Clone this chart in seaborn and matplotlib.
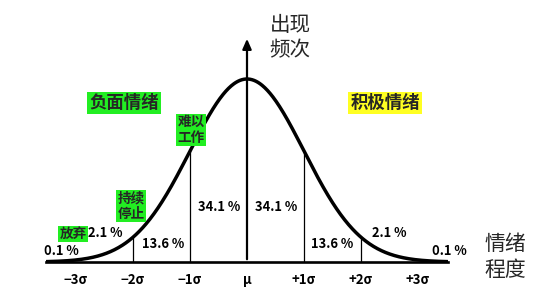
import numpy as np
import pandas as pd
import matplotlib
matplotlib.use("Agg")
import matplotlib.pyplot as plt
import seaborn as sns

# ---- data ----
sigma_ticks = [-3, -2, -1, 0, 1, 2, 3]
tick_labels = ["−3σ", "−2σ", "−1σ", "μ", "+1σ", "+2σ", "+3σ"]
band_pcts_left = ["0.1 %", "2.1 %", "13.6 %", "34.1 %"]
band_pcts_right = ["34.1 %", "13.6 %", "2.1 %", "0.1 %"]
divider_sigmas = [-2, -1, 1, 2]
x_label = "情绪\n程度"
y_label = "出现\n频次"
neg_title = "负面情绪"
pos_title = "积极情绪"
stage_labels = ["放弃", "持续\n停止", "难以\n工作"]

sns.set_theme(style="white")
plt.rcParams["font.family"] = ["Noto Sans CJK SC", "DejaVu Sans"]

W, H = 554, 293
fig = plt.figure(figsize=(W / 100, H / 100), dpi=100)
x0, x1, ybase, ytop = 46, 448, 262, 30
ax = fig.add_axes([x0 / W, (H - ybase) / H, (x1 - x0) / W, (ybase - ytop) / H])

px_per_sigma = 57.0
xlim = (x1 - x0) / 2 / px_per_sigma
peak_px = ybase - 79
yscale = peak_px / 0.39894
ymax = (ybase - ytop) / yscale

xs = np.linspace(-xlim, xlim, 600)
curve = pd.DataFrame({"x": xs, "y": np.exp(-xs ** 2 / 2) / np.sqrt(2 * np.pi)})
sns.lineplot(data=curve, x="x", y="y", ax=ax, color="black", lw=2.5)

pdf = lambda v: np.exp(-v ** 2 / 2) / np.sqrt(2 * np.pi)
for s in divider_sigmas:
    ax.plot([s, s], [0, pdf(s)], color="black", lw=0.9)

ax.annotate("", xy=(0, (ybase - 36) / yscale), xytext=(0, 0),
            arrowprops=dict(arrowstyle="-|>,head_length=0.5,head_width=0.22",
                            color="black", lw=1.6), annotation_clip=False)

ax.set_xlim(-xlim, xlim)
ax.set_ylim(0, ymax)
ax.set_xticks(sigma_ticks)
ax.set_xticklabels(tick_labels, fontsize=9.5, fontweight="bold")
ax.tick_params(axis="x", length=0, pad=8, colors="black")
ax.set_yticks([])
ax.set_xlabel("")
ax.set_ylabel("")
for side in ["top", "left", "right"]:
    ax.spines[side].set_visible(False)
ax.spines["bottom"].set_color("black")
ax.spines["bottom"].set_linewidth(1.9)
ax.patch.set_alpha(0)

def P(px, py):
    return ((px - 247) / px_per_sigma, (ybase - py) / yscale)

pct_kw = dict(fontsize=9.3, fontweight="bold", ha="center", va="center", color="black")
left_pos = [(61, 251), (105, 233), (163, 244), (219, 207)]
right_pos = [(276, 207), (332, 244), (389, 233), (449, 251)]
for lab, p in zip(band_pcts_left, left_pos):
    ax.text(*P(*p), lab, **pct_kw, clip_on=False)
for lab, p in zip(band_pcts_right, right_pos):
    ax.text(*P(*p), lab, **pct_kw, clip_on=False)

green = "#22ee22"
yellow = "#ffff22"
ax.text(*P(124, 103), neg_title, fontsize=12.5, fontweight="bold", ha="center", va="center",
        bbox=dict(facecolor=green, edgecolor="none", pad=1.5))
ax.text(*P(385, 103), pos_title, fontsize=12.5, fontweight="bold", ha="center", va="center",
        bbox=dict(facecolor=yellow, edgecolor="none", pad=1.5))
stage_pos = [(73, 234), (131, 206), (191, 130)]
for lab, p in zip(stage_labels, stage_pos):
    ax.text(*P(*p), lab, fontsize=9.8, fontweight="bold", ha="center", va="center",
            linespacing=1.15, bbox=dict(facecolor=green, edgecolor="none", pad=1.0))

ax.text(*P(290, 38), y_label, fontsize=14.8, ha="center", va="center",
        linespacing=1.2, clip_on=False)
ax.text(*P(505, 257), x_label, fontsize=15, ha="center", va="center",
        linespacing=1.2, clip_on=False)

fig.savefig("out.png", dpi=100, facecolor="white")
